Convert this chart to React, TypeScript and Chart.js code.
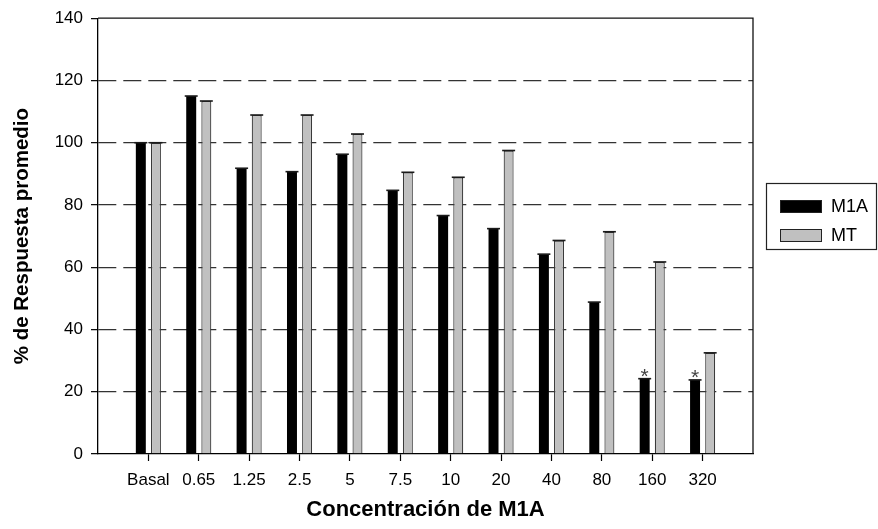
import React, { useEffect, useRef } from 'react';
import { Chart, registerables } from 'chart.js';

Chart.register(...registerables);

const categories = ['Basal', '0.65', '1.25', '2.5', '5', '7.5', '10', '20', '40', '80', '160', '320'];
const m1aValues = [100, 115, 91.8, 90.7, 96.3, 84.7, 76.6, 72.4, 64.2, 48.8, 24.2, 23.8];
const mtValues = [100, 113.4, 108.9, 108.9, 102.8, 90.5, 88.9, 97.5, 68.6, 71.4, 61.7, 32.5];
const m1aSignificant = [false, false, false, false, false, false, false, false, false, false, true, true];
const seriesNames = ['M1A', 'MT'];
const yMin = 0;
const yMax = 140;
const yStep = 20;

const FONT = '"Liberation Sans", Arial, Helvetica, sans-serif';
const W = 878;
const H = 529;

export default function App() {
  const ref = useRef<HTMLCanvasElement | null>(null);

  useEffect(() => {
    const canvas = ref.current;
    if (!canvas) return;
    const labels = ['', ...categories, ''];
    const pad = (arr: number[]) => [null, ...arr, null];
    const lastIndex = labels.length - 1;

    const capsPlugin = {
      id: 'caps',
      afterDatasetsDraw(chart: any) {
        const ctx = chart.ctx;
        ctx.save();
        ctx.strokeStyle = '#1a1a1a';
        ctx.lineWidth = 1.6;
        chart.data.datasets.forEach((ds: any, di: number) => {
          const meta = chart.getDatasetMeta(di);
          meta.data.forEach((el: any, i: number) => {
            if (ds.data[i] == null) return;
            const { x, y, width } = el.getProps(['x', 'y', 'width'], true);
            ctx.beginPath();
            ctx.moveTo(x - width / 2 - 1.5, y);
            ctx.lineTo(x + width / 2 + 1.5, y);
            ctx.stroke();
          });
        });
        // asterisks
        const meta0 = chart.getDatasetMeta(0);
        ctx.fillStyle = '#444';
        ctx.font = `21px ${FONT}`;
        ctx.textAlign = 'center';
        ctx.textBaseline = 'alphabetic';
        m1aSignificant.forEach((sig, i) => {
          if (!sig) return;
          const el = meta0.data[i + 1];
          const { x, y } = el.getProps(['x', 'y'], true);
          ctx.fillText('*', x, y + 4);
        });
        ctx.restore();
      },
    };

    const framePlugin = {
      id: 'frame',
      afterDraw(chart: any) {
        const { ctx, chartArea: a } = chart;
        ctx.save();
        ctx.strokeStyle = '#111';
        ctx.lineWidth = 1.3;
        ctx.beginPath();
        ctx.moveTo(a.left, a.top);
        ctx.lineTo(a.right, a.top);
        ctx.lineTo(a.right, a.bottom);
        ctx.stroke();

        // legend
        const bx = 766, by = 183, bw = 110, bh = 66;
        ctx.lineWidth = 1.2;
        ctx.strokeStyle = '#222';
        ctx.strokeRect(bx + 0.5, by + 0.5, bw, bh);
        const colors = ['#000000', '#c0c0c0'];
        const rowsY = [200, 229];
        seriesNames.forEach((name, i) => {
          ctx.fillStyle = colors[i];
          ctx.fillRect(780, rowsY[i], 42, 13);
          ctx.strokeStyle = '#222';
          ctx.lineWidth = 1;
          ctx.strokeRect(780.5, rowsY[i] + 0.5, 41, 12);
          ctx.fillStyle = '#000';
          ctx.font = `18px ${FONT}`;
          ctx.textAlign = 'left';
          ctx.textBaseline = 'middle';
          ctx.fillText(name, 831, rowsY[i] + 7);
        });
        ctx.restore();
      },
    };

    const chart = new Chart(canvas, {
      type: 'bar',
      data: {
        labels,
        datasets: [
          {
            label: seriesNames[0],
            data: pad(m1aValues),
            backgroundColor: '#000000',
            borderColor: '#000000',
            borderWidth: 0,
            categoryPercentage: 0.6,
            barPercentage: 0.66,
          },
          {
            label: seriesNames[1],
            data: pad(mtValues),
            backgroundColor: '#c0c0c0',
            borderColor: '#3a3a3a',
            borderWidth: 1.2,
            categoryPercentage: 0.6,
            barPercentage: 0.66,
          },
        ],
      },
      options: {
        responsive: false,
        animation: false,
        events: [],
        layout: { padding: { left: 0, right: W - 753, top: 13, bottom: 0 } },
        plugins: {
          legend: { display: false },
          tooltip: { enabled: false },
        },
        scales: {
          x: {
            type: 'category',
            offset: false,
            afterFit: (scale: any) => {
              scale.height = H - 454;
            },
            grid: {
              offset: false,
              drawOnChartArea: false,
              drawTicks: true,
              tickLength: 7,
              tickWidth: 1.2,
              tickColor: (ctx: any) => (ctx.index === 0 || ctx.index === lastIndex ? 'rgba(0,0,0,0)' : '#000'),
              color: 'rgba(0,0,0,0)',
            },
            border: { display: true, color: '#000', width: 1.3 },
            ticks: {
              autoSkip: false,
              maxRotation: 0,
              minRotation: 0,
              color: '#000',
              padding: 9,
              font: { family: FONT, size: 17 },
            },
            title: {
              display: true,
              text: 'Concentración de M1A',
              color: '#000',
              font: { family: FONT, size: 22, weight: 'bold' },
              padding: { top: 0, bottom: 6 },
            },
          },
          y: {
            min: yMin,
            max: yMax,
            afterFit: (scale: any) => {
              scale.width = 98;
            },
            ticks: {
              stepSize: yStep,
              color: '#000',
              padding: 8,
              font: { family: FONT, size: 17 },
            },
            grid: {
              lineWidth: 1.3,
              color: (ctx: any) =>
                ctx.tick && (ctx.tick.value === yMin || ctx.tick.value === yMax) ? 'rgba(0,0,0,0)' : '#333',
              tickColor: '#000',
              tickLength: 7,
              tickWidth: 1.2,
            },
            border: { display: true, color: '#000', width: 1.3, dash: [18, 7] },
            title: {
              display: true,
              text: '% de Respuesta promedio',
              color: '#000',
              font: { family: FONT, size: 20.5, weight: 'bold' },
              padding: { top: 10, bottom: 0 },
            },
          },
        },
      },
      plugins: [capsPlugin, framePlugin],
    });

    return () => {
      chart.destroy();
    };
  }, []);

  return (
    <div style={{ position: 'fixed', left: 0, top: 0, width: W, height: H, background: '#fff' }}>
      <canvas ref={ref} width={W} height={H} style={{ display: 'block' }} />
    </div>
  );
}
